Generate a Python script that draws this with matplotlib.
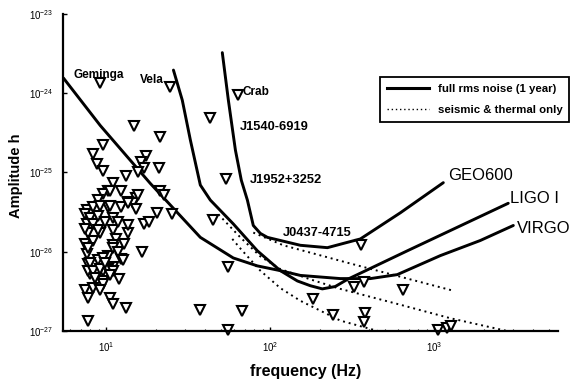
import numpy as np
import matplotlib
matplotlib.use("Agg")
import matplotlib.pyplot as plt
from matplotlib.lines import Line2D

plt.rcParams['font.family'] = ['Liberation Sans', 'DejaVu Sans']

# ---- detector sensitivity curves (log10 frequency [Hz], log10 amplitude h) ----
virgo_logf = [0.738, 0.963, 1.268, 1.573, 1.774, 1.921, 2.061, 2.183, 2.427, 2.610, 2.774, 3.037, 3.280, 3.482]
virgo_logh = [-23.81, -24.41, -25.14, -25.82, -26.08, -26.18, -26.24, -26.30, -26.34, -26.34, -26.29, -26.05, -25.86, -25.67]

ligo_logf = [1.409, 1.463, 1.512, 1.573, 1.634, 1.774, 1.921, 2.061, 2.165, 2.244, 2.317, 2.396, 2.470, 2.835, 3.451]
ligo_logh = [-23.71, -24.09, -24.59, -25.16, -25.35, -25.65, -25.99, -26.24, -26.37, -26.43, -26.47, -26.44, -26.35, -25.99, -25.39]

geo_logf = [1.707, 1.744, 1.787, 1.823, 1.860, 1.896, 1.939, 1.982, 2.183, 2.348, 2.457, 2.549, 2.793, 3.055]
geo_logh = [-23.49, -24.09, -24.72, -25.10, -25.35, -25.67, -25.77, -25.82, -25.92, -25.95, -25.89, -25.84, -25.51, -25.13]

# seismic & thermal only (dotted)
geo_st_logf = [1.896, 2.079, 2.488, 3.110]
geo_st_logh = [-25.76, -25.92, -26.15, -26.49]
ligo_st_logf = [1.683, 1.817, 1.939, 2.061, 2.244, 2.427, 2.793, 3.098, 3.463]
ligo_st_logh = [-25.53, -25.82, -26.06, -26.22, -26.35, -26.47, -26.67, -26.84, -27.01]
virgo_st_logf = [1.768, 1.817, 1.939, 2.061, 2.183, 2.427, 2.671]
virgo_st_logh = [-25.84, -25.96, -26.24, -26.46, -26.62, -26.87, -27.01]

# ---- named pulsars ----
named_names = ["Geminga", "Vela", "Crab", "J1540-6919", "J1952+3252", "J0437-4715"]
named_logf = [0.96, 1.39, 1.80, 1.63, 1.73, 2.55]
named_logh = [-23.87, -23.92, -24.03, -24.32, -25.08, -25.92]
label_logf = [0.799, 1.207, 1.829, 1.817, 1.878, 2.079]
label_logh = [-23.77, -23.84, -23.99, -24.43, -25.10, -25.77]

# ---- other pulsars ----
pulsar_logf = [
    1.17, 1.33, 0.98, 0.92, 0.94, 0.98, 1.12, 1.24, 1.21, 1.23, 1.32, 1.19, 1.04, 1.01, 0.98, 0.95,
    1.18, 1.16, 1.09, 1.33, 1.35, 1.31, 1.40, 0.88, 0.92, 1.02, 1.13, 1.01, 0.87, 1.65, 1.74, 1.57,
    1.83, 1.74, 2.26, 2.38, 2.51, 2.57, 2.81, 2.58, 2.57, 3.02, 3.08, 3.10,
    0.88, 0.89, 0.87, 0.88, 0.89, 0.90, 1.23, 1.26, 1.13, 1.04, 1.06, 0.96, 1.22, 1.04, 1.01, 1.09,
    1.04, 0.98, 0.95, 0.98, 0.98, 0.89, 0.95, 0.87, 0.89, 1.02, 1.04, 1.12, 0.89,
    1.09, 1.19, 1.13, 1.02, 0.96, 0.90, 0.92, 0.95, 0.92, 1.04, 1.07, 1.13, 0.89, 1.04, 1.07, 0.98,
    0.90, 0.92, 0.96, 1.01, 1.04, 1.02, 0.93, 1.10, 0.99, 0.92, 0.96, 1.08, 0.95, 0.99, 0.87, 1.11, 1.18,
]
pulsar_logh = [
    -24.42, -24.56, -24.65, -24.77, -24.89, -24.98, -25.05, -24.79, -24.87, -24.94, -24.95, -25.00, -25.14, -25.23, -25.27, -25.35,
    -25.32, -25.39, -25.44, -25.23, -25.29, -25.51, -25.52, -25.48, -25.44, -25.23, -25.38, -25.44, -25.52, -25.60, -26.20, -26.73,
    -26.75, -26.99, -26.60, -26.80, -26.44, -26.38, -26.48, -26.77, -26.89, -26.99, -26.96, -26.94,
    -25.65, -25.77, -25.90, -26.03, -26.15, -26.28, -25.65, -25.63, -25.76, -25.73, -25.84, -25.77, -26.01, -25.92, -26.05, -26.09,
    -26.20, -26.24, -26.27, -26.37, -26.41, -26.24, -26.11, -26.49, -26.58, -26.58, -26.66, -26.71, -26.87,
    -25.23, -25.29, -25.39, -25.42, -25.42, -25.57, -25.65, -25.73, -25.86, -25.57, -25.63, -25.67, -25.95, -25.96, -26.01, -26.08,
    -26.14, -26.24, -26.22, -26.22, -26.24, -26.30, -26.33, -26.11, -26.14, -26.46, -26.49, -26.34, -25.55, -25.63, -25.71, -25.90, -25.46,
]

detector_names = ["GEO600", "LIGO I", "VIRGO"]
detector_label_logf = [3.085, 3.463, 3.505]
detector_label_logh = [-25.04, -25.33, -25.71]

legend_labels = ["full rms noise (1 year)", "seismic & thermal only"]

p10 = lambda a: np.power(10.0, np.asarray(a))

fig = plt.figure(figsize=(5.72, 3.83), dpi=100)
ax = fig.add_axes([0.110, 0.136, 0.866, 0.828])
ax.set_xscale('log')
ax.set_yscale('log')

lw = 2.1
ax.plot(p10(virgo_logf), p10(virgo_logh), color='black', lw=lw, solid_capstyle='round')
ax.plot(p10(ligo_logf), p10(ligo_logh), color='black', lw=lw, solid_capstyle='round')
ax.plot(p10(geo_logf), p10(geo_logh), color='black', lw=lw, solid_capstyle='round')
dot = dict(color='black', lw=1.4, linestyle=(0, (1, 2)))
ax.plot(p10(geo_st_logf), p10(geo_st_logh), **dot)
ax.plot(p10(ligo_st_logf), p10(ligo_st_logh), **dot)
ax.plot(p10(virgo_st_logf), p10(virgo_st_logh), **dot)

mk = dict(linestyle='none', marker='v', markersize=7.5, markerfacecolor='white',
          markeredgecolor='black', markeredgewidth=1.5, clip_on=False)
ax.plot(p10(pulsar_logf), p10(pulsar_logh), **mk)
ax.plot(p10(named_logf), p10(named_logh), **mk)

for name, lf, lh in zip(named_names, label_logf, label_logh):
    fs = 9.3 if name.startswith('J') else 8.5
    ax.text(10 ** lf, 10 ** lh, name, fontsize=fs, fontweight='bold', ha='left', va='center')
for name, lf, lh in zip(detector_names, detector_label_logf, detector_label_logh):
    ax.text(10 ** lf, 10 ** lh, name, fontsize=12, ha='left', va='center', clip_on=False)

ax.set_xlim(10 ** 0.735, 10 ** 3.756)
ax.set_ylim(1e-27, 1e-23)
ax.set_xticks([10, 100, 1000])
ax.set_yticks([1e-27, 1e-26, 1e-25, 1e-24, 1e-23])
ax.tick_params(which='major', direction='in', length=3, width=1, labelsize=7, pad=7)
ax.tick_params(which='minor', direction='in', length=1.5, width=0.8)
ax.yaxis.set_minor_locator(matplotlib.ticker.NullLocator())
for s in ['top', 'right']:
    ax.spines[s].set_visible(False)
for s in ['left', 'bottom']:
    ax.spines[s].set_linewidth(1.6)

ax.set_xlabel("frequency (Hz)", fontsize=11.5, fontweight='bold')
ax.xaxis.set_label_coords(0.49, -0.105)
ax.set_ylabel("Amplitude h", fontsize=10.5, fontweight='bold')
ax.yaxis.set_label_coords(-0.080, 0.49)

handles = [Line2D([], [], color='black', lw=2.2),
           Line2D([], [], color='black', lw=1.0, linestyle=(0, (1, 2)))]
leg = fig.legend(handles, legend_labels, loc='upper left', bbox_to_anchor=(0.664, 0.798),
                 frameon=True, fancybox=False, shadow=False, framealpha=1,
                 prop={'size': 8.2, 'weight': 'bold'}, handlelength=3.7,
                 handletextpad=0.8, labelspacing=0.95, borderpad=0.6, borderaxespad=0)
leg.get_frame().set_edgecolor('black')
leg.get_frame().set_linewidth(1.3)

fig.savefig("out.png", dpi=100)
